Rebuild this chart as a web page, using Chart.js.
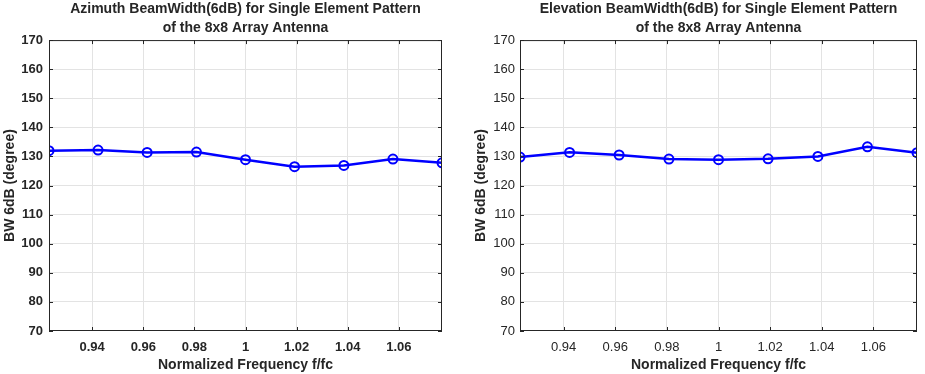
<!DOCTYPE html>
<html>
<head>
<meta charset="utf-8">
<script src="https://cdn.jsdelivr.net/npm/chart.js@4"></script>
<style>
  html, body { margin: 0; padding: 0; background: #fff; }
  #wrap { position: relative; width: 925px; height: 374px; }
  #left { position: absolute; left: 0; top: 0; }
  #right { position: absolute; left: 460px; top: 0; }
</style>
</head>
<body>
<div id="wrap">
  <canvas id="left" width="460" height="374"></canvas>
  <canvas id="right" width="465" height="374"></canvas>
</div>
<script>
// normalized frequency f/fc (24..28 GHz over fc = 26 GHz)
const freqNorm = [0.9231, 0.9423, 0.9615, 0.9808, 1.0, 1.0192, 1.0385, 1.0577, 1.0769];
const azimuthBW = [132.0, 132.2, 131.4, 131.5, 128.9, 126.5, 126.9, 129.1, 127.8];
const elevationBW = [129.8, 131.4, 130.5, 129.1, 128.9, 129.2, 130.0, 133.3, 131.3];
const xTicks = [0.94, 0.96, 0.98, 1, 1.02, 1.04, 1.06];
const yTicks = [70, 80, 90, 100, 110, 120, 130, 140, 150, 160, 170];

const textColor = "#262626";

// matlab style box with inward ticks
const boxPlugin = {
  id: "box",
  afterDraw(chart) {
    const { ctx, chartArea: a, scales } = chart;
    ctx.save();
    ctx.strokeStyle = textColor;
    ctx.lineWidth = 1;
    ctx.strokeRect(a.left + 0.5, a.top + 0.5, a.right - a.left - 1, a.bottom - a.top - 1);
    ctx.beginPath();
    xTicks.forEach(v => {
      const x = Math.round(scales.x.getPixelForValue(v)) + 0.5;
      ctx.moveTo(x, a.bottom); ctx.lineTo(x, a.bottom - 4);
      ctx.moveTo(x, a.top); ctx.lineTo(x, a.top + 4);
    });
    yTicks.forEach(v => {
      const y = Math.round(scales.y.getPixelForValue(v)) + 0.5;
      ctx.moveTo(a.left, y); ctx.lineTo(a.left + 4, y);
      ctx.moveTo(a.right, y); ctx.lineTo(a.right - 4, y);
    });
    ctx.stroke();
    ctx.restore();
  }
};

function makeChart(id, title, values, opt) {
  const points = freqNorm.map((x, i) => ({ x: x, y: values[i] }));
  return new Chart(document.getElementById(id), {
    type: "line",
    data: {
      datasets: [{
        data: points,
        borderColor: "#0000ff",
        borderWidth: 2.5,
        pointRadius: 4.5,
        pointBorderWidth: 2,
        pointBackgroundColor: "rgba(0,0,0,0)",
        pointBorderColor: "#0000ff",
        tension: 0,
      }],
    },
    options: {
      responsive: false,
      animation: false,
      devicePixelRatio: 1,
      layout: { padding: { left: 0, right: opt.padRight, top: 0, bottom: 0 } },
      plugins: {
        legend: { display: false },
        tooltip: { enabled: false },
        title: {
          display: true,
          fullSize: false,
          text: title,
          color: textColor,
          font: { family: "Liberation Sans", size: 14, weight: "bold", lineHeight: 1.36 },
          padding: { top: 0, bottom: 2 },
        },
      },
      scales: {
        x: {
          type: "linear",
          min: freqNorm[0],
          max: freqNorm[freqNorm.length - 1],
          afterBuildTicks: s => { s.ticks = xTicks.map(v => ({ value: v })); },
          afterFit: s => { s.height = 43; },
          grid: { color: "#e3e3e3", drawTicks: false },
          border: { display: false },
          ticks: {
            color: textColor,
            padding: 9,
            maxRotation: 0,
            autoSkip: false,
            font: { family: "Liberation Sans", size: 13, weight: opt.tickWeight },
            callback: v => String(v),
          },
          title: {
            display: true,
            text: "Normalized Frequency f/fc",
            color: textColor,
            font: { family: "Liberation Sans", size: 14, weight: "bold", lineHeight: 1.2 },
            padding: { top: 0, bottom: 0 },
          },
        },
        y: {
          min: 70,
          max: 170,
          afterBuildTicks: s => { s.ticks = yTicks.map(v => ({ value: v })); },
          afterFit: s => { s.width = opt.yWidth; },
          grid: { color: "#e3e3e3", drawTicks: false },
          border: { display: false },
          ticks: {
            color: textColor,
            padding: opt.yPad,
            font: { family: "Liberation Sans", size: 13, weight: opt.tickWeight },
          },
          title: {
            display: true,
            text: "BW 6dB (degree)",
            color: textColor,
            font: { family: "Liberation Sans", size: 14, weight: "bold", lineHeight: 1.2 },
            padding: { top: opt.yTitlePad, bottom: 0 },
          },
        },
      },
    },
    plugins: [boxPlugin],
  });
}

makeChart("left",
  ["Azimuth BeamWidth(6dB) for Single Element Pattern", "of the 8x8 Array Antenna"],
  azimuthBW, { padRight: 18, yWidth: 49, yPad: 6, yTitlePad: 2, tickWeight: "bold" });

makeChart("right",
  ["Elevation BeamWidth(6dB) for Single Element Pattern", "of the 8x8 Array Antenna"],
  elevationBW, { padRight: 8, yWidth: 60, yPad: 5, yTitlePad: 13, tickWeight: "normal" });
</script>
</body>
</html>
